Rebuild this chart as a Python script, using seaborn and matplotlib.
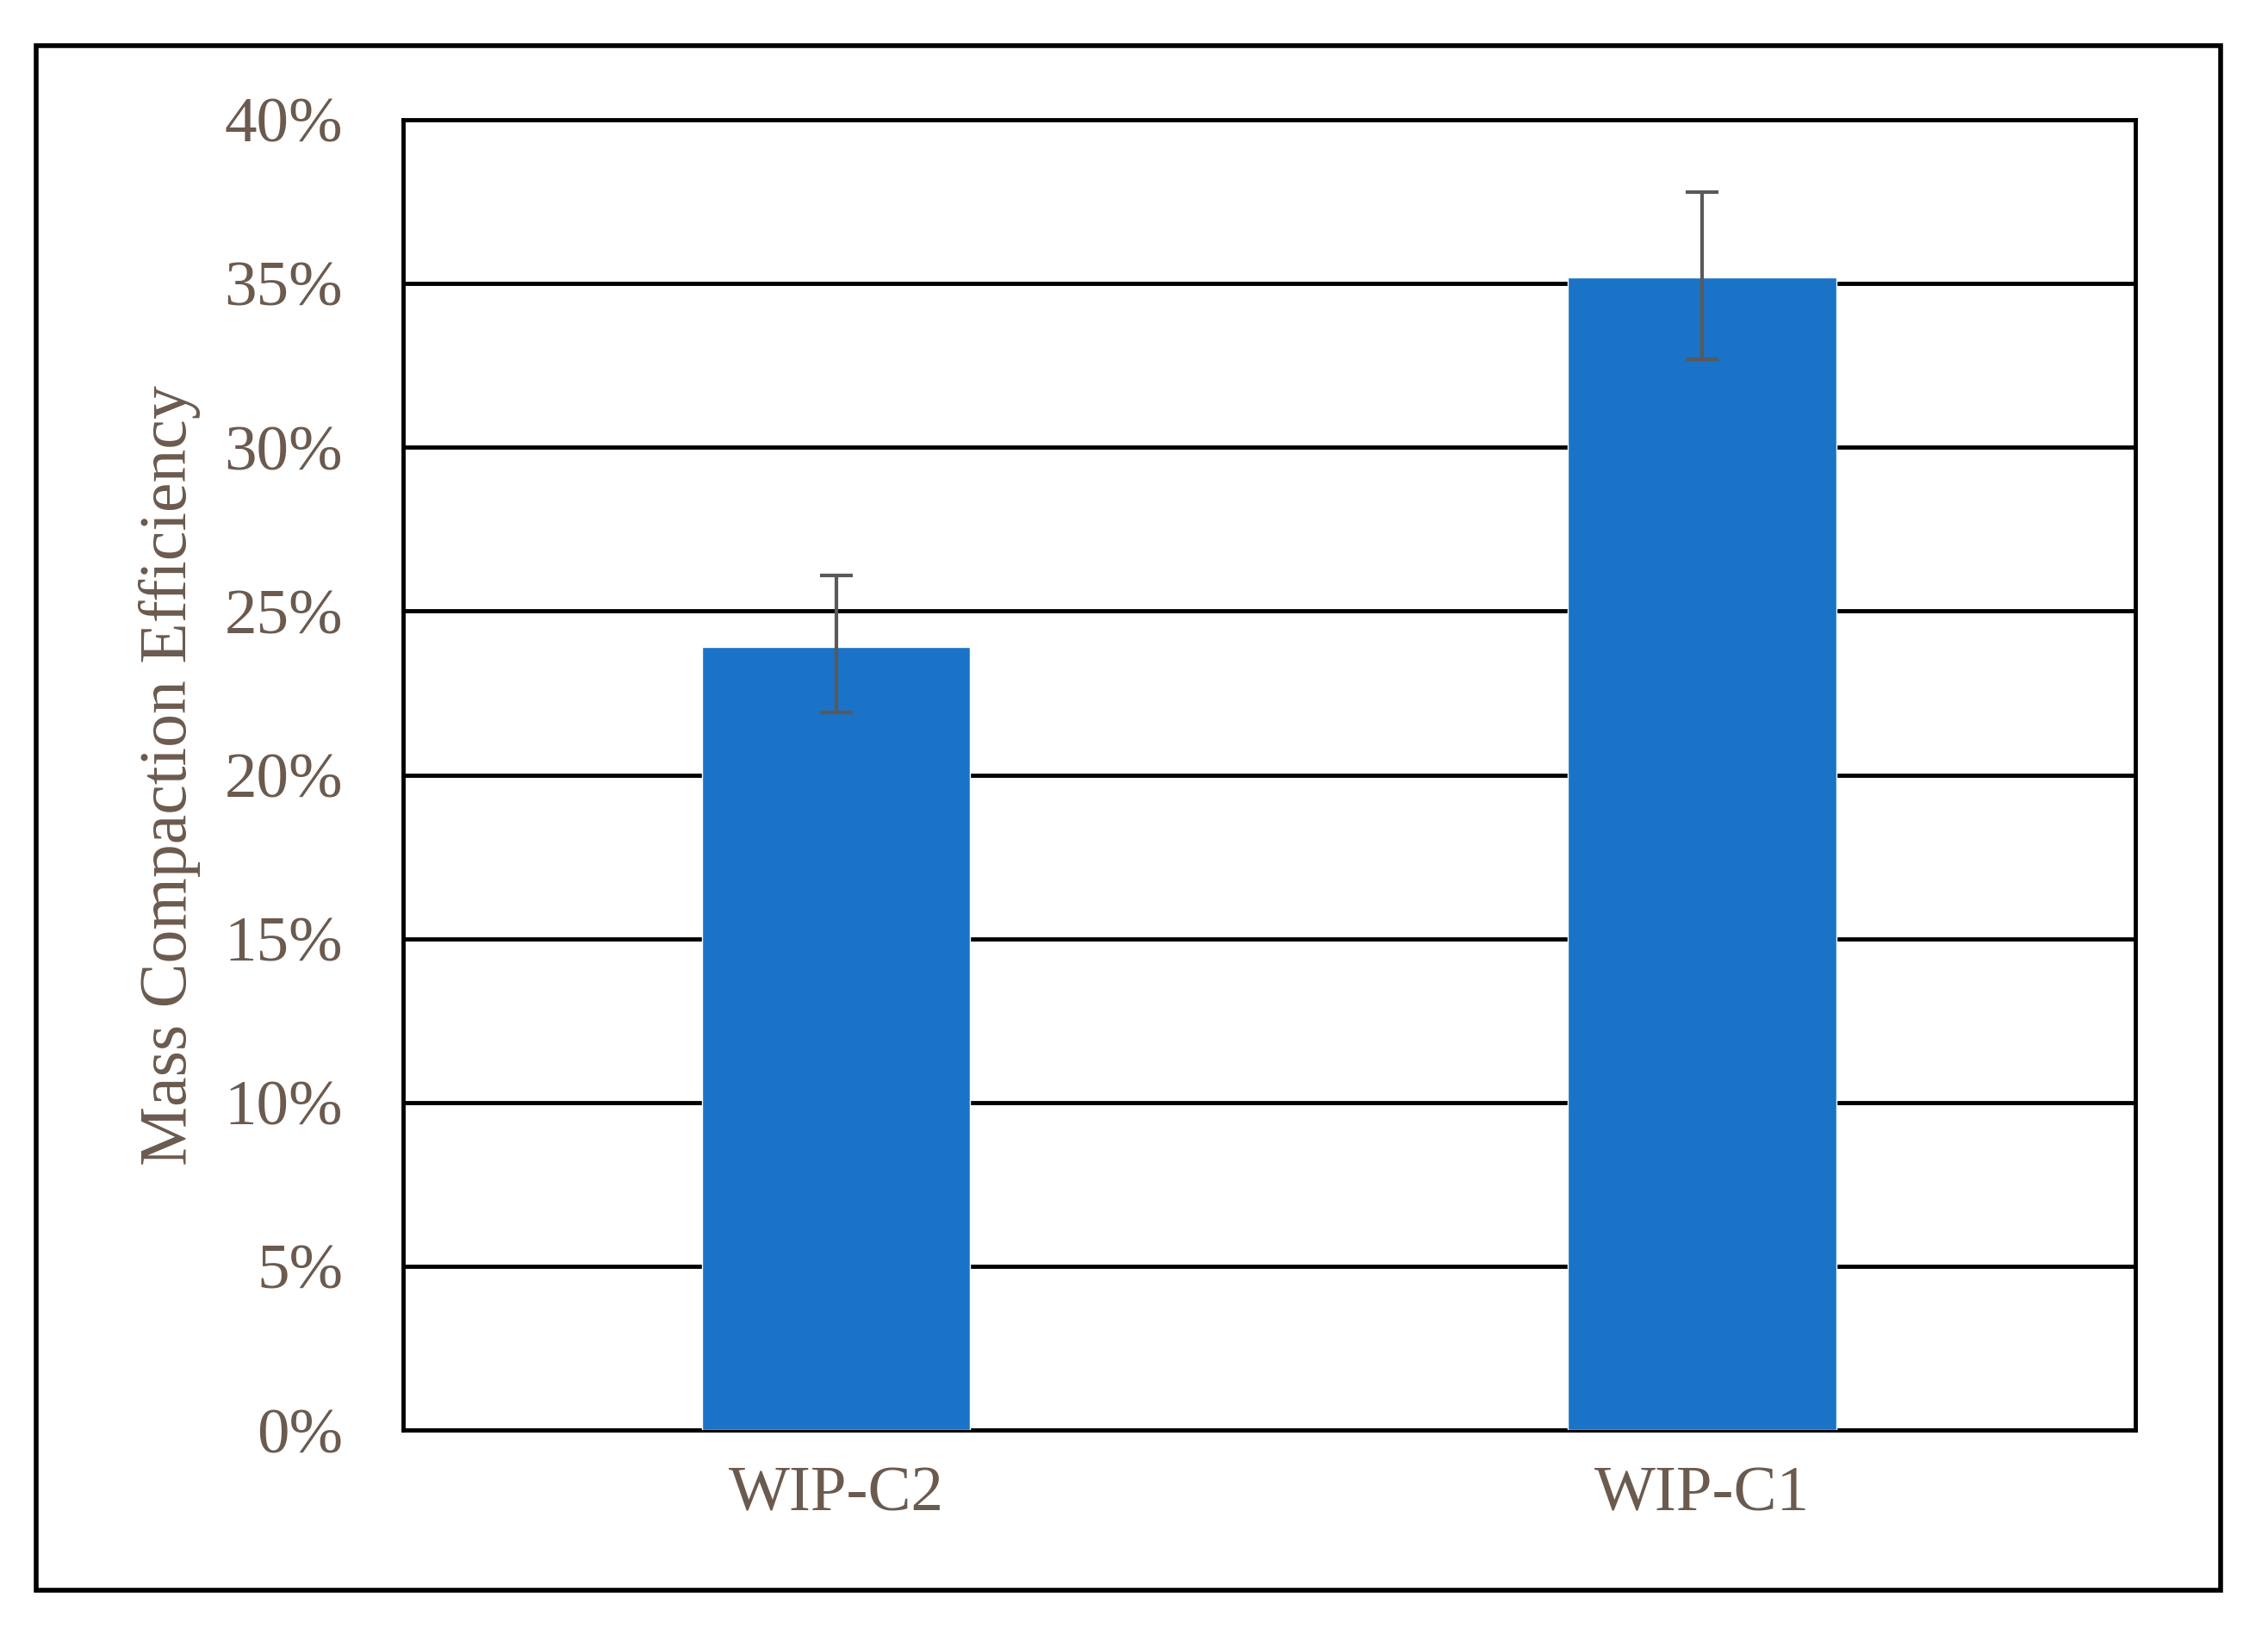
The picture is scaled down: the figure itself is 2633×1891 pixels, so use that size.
import matplotlib
matplotlib.use("Agg")
import matplotlib.pyplot as plt
import matplotlib.ticker as mticker
import numpy as np
import pandas as pd
import seaborn as sns

# data
samples = ["WIP-C2", "WIP-C1"]
efficiency = [0.239, 0.352]
err_low = [0.020, 0.025]
err_high = [0.022, 0.026]

BAR_COLOR = "#1a73c7"
TEXT_COLOR = "#6b5a4e"

sns.set_theme(style="white")
plt.rcParams["font.family"] = ["Liberation Serif", "DejaVu Serif"]

df = pd.DataFrame({"sample": samples, "eff": efficiency})

fig = plt.figure(figsize=(26.33, 18.91), dpi=100)
ax = fig.add_axes([0.1776, 0.122, 0.764, 0.8045])

sns.barplot(data=df, x="sample", y="eff", color=BAR_COLOR, width=0.31,
            saturation=1, ax=ax, zorder=3)
x = np.arange(len(samples))
ax.errorbar(x, efficiency, yerr=[err_low, err_high], fmt="none",
            ecolor="#595959", elinewidth=3, capsize=14, capthick=3, zorder=4)

ax.set_xlim(-0.5, 1.5)
ax.set_ylim(0, 0.40)
ax.yaxis.set_major_locator(mticker.MultipleLocator(0.05))
ax.yaxis.set_major_formatter(mticker.PercentFormatter(1.0, decimals=0))
ax.grid(axis="y", color="black", linewidth=3.5, zorder=0)
ax.set_axisbelow(True)
for s in ax.spines.values():
    s.set_color("black")
    s.set_linewidth(3.5)
ax.tick_params(axis="both", labelsize=54, labelcolor=TEXT_COLOR, length=0)
ax.tick_params(axis="y", pad=50)
ax.tick_params(axis="x", pad=30)
ax.set_xlabel("")
ax.set_ylabel("Mass Compaction Efficiency", fontsize=56, color=TEXT_COLOR, labelpad=20)

# outer frame
frame = plt.Rectangle((0.016, 0.024), 0.963, 0.948, transform=fig.transFigure,
                      fill=False, edgecolor="black", linewidth=4)
fig.patches.append(frame)

fig.savefig("out.png", dpi=100)
